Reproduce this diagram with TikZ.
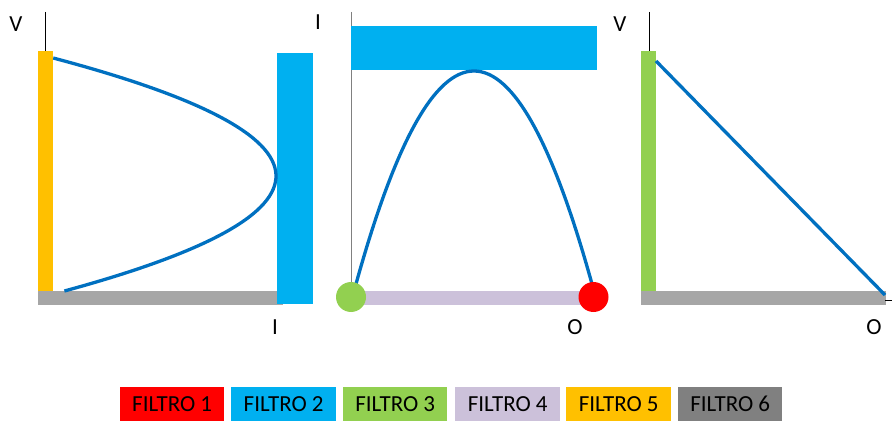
\documentclass[tikz,border=0pt]{standalone}
\usepackage{fontspec}
\setmainfont{Carlito}
\definecolor{fred}{HTML}{FF0000}
\definecolor{fblue}{HTML}{00B0F0}
\definecolor{fgreen}{HTML}{92D050}
\definecolor{flav}{HTML}{CCC1DA}
\definecolor{fyellow}{HTML}{FFC000}
\definecolor{fgray}{HTML}{808080}
\definecolor{barg}{HTML}{A6A6A6}
\definecolor{curveblue}{HTML}{0070C0}
\tikzset{
  axislbl/.style={font=\fontsize{23}{25}\selectfont, text=black, inner sep=0pt},
  axisline/.style={draw=black, line width=1pt},
  curve/.style={draw=curveblue, line width=3.3pt},
  legbox/.style={font=\fontsize{23}{25}\selectfont, text=black, inner sep=0pt, minimum height=34pt, anchor=north west},
}
\begin{document}
\begin{tikzpicture}[x=1pt,y=-1pt]
\useasboundingbox (0,0) rectangle (892,422);
% ---------- panel 1 ----------
\node[axislbl] (v1) at (16,24) {V};
\draw[axisline] (45,12) -- (45,51);
\fill[fyellow] (38,51) rectangle (53,291);
\fill[barg] (38,291) rectangle (283,305);
\fill[fblue] (277,53) rectangle (313,304);
\draw[curve] (53.2,58) .. controls (346.5,135.7) and (350.2,213.3) .. (64.4,291);
\node[axislbl] (i1) at (275,327) {I};
% ---------- panel 2 ----------
\node[axislbl] (i2) at (318,22) {I};
\draw[draw=fgray, line width=1pt] (351,12) -- (351,297);
\fill[fblue] (351,26) rectangle (597,70);
\fill[flav] (351,291) rectangle (592,305);
\draw[curve] (356,284) .. controls (434.7,0) and (513.3,0) .. (592,284);
\node[circle, fill=fgreen, minimum size=30pt, inner sep=0pt] (gdot) at (351,297) {};
\node[circle, fill=fred, minimum size=30pt, inner sep=0pt] (rdot) at (593.5,297) {};
\node[axislbl] (o2) at (575,327) {O};
% ---------- panel 3 ----------
\node[axislbl] (v3) at (620,24) {V};
\draw[axisline] (649,12) -- (649,51);
\fill[fgreen] (641,51) rectangle (656,291);
\fill[barg] (641,291) rectangle (886,305);
\coordinate (l3a) at (656,61);
\coordinate (l3b) at (885,295);
\draw[curve] (l3a) -- (l3b);
\coordinate (t3a) at (885,300);
\coordinate (t3b) at (892,300);
\draw[draw=black, line width=0.8pt] (t3a) -- (t3b);
\node[axislbl] (o3) at (874,327) {O};
% ---------- legend ----------
\node[legbox, fill=fred, minimum width=104pt] (f1) at (120,387) {FILTRO 1};
\node[legbox, fill=fblue, minimum width=105pt] (f2) at (231,387) {FILTRO 2};
\node[legbox, fill=fgreen, minimum width=104pt] (f3) at (343,387) {FILTRO 3};
\node[legbox, fill=flav, minimum width=105pt] (f4) at (455,387) {FILTRO 4};
\node[legbox, fill=fyellow, minimum width=105pt] (f5) at (566,387) {FILTRO 5};
\node[legbox, fill=fgray, minimum width=104pt] (f6) at (678,387) {FILTRO 6};
\end{tikzpicture}
\end{document}
